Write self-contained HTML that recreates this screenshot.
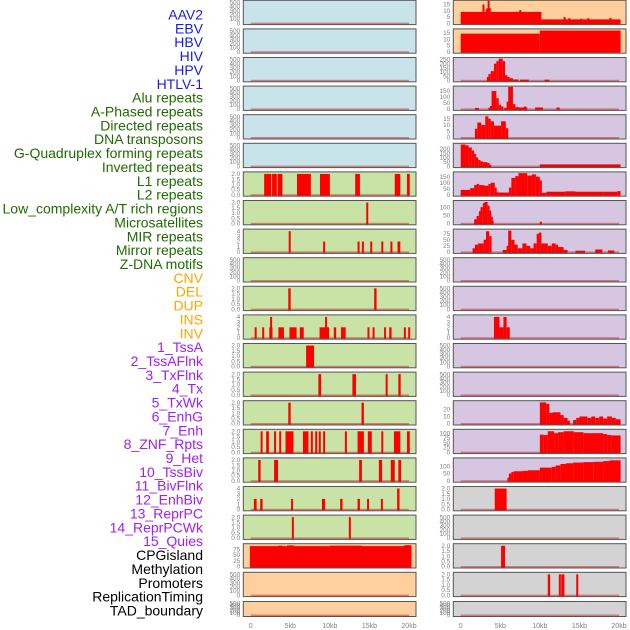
<!DOCTYPE html>
<html><head><meta charset="utf-8"><style>
html,body{margin:0;padding:0;background:#fff;width:630px;height:630px;overflow:hidden}
svg{display:block}
</style></head><body>
<svg id="chart" width="630" height="630" xmlns="http://www.w3.org/2000/svg"></svg>
<script>
const labels=["AAV2","EBV","HBV","HIV","HPV","HTLV-1","Alu repeats","A-Phased repeats","Directed repeats","DNA transposons","G-Quadruplex forming repeats","Inverted repeats","L1 repeats","L2 repeats","Low_complexity A/T rich regions","Microsatellites","MIR repeats","Mirror repeats","Z-DNA motifs","CNV","DEL","DUP","INS","INV","1_TssA","2_TssAFlnk","3_TxFlnk","4_Tx","5_TxWk","6_EnhG","7_Enh","8_ZNF_Rpts","9_Het","10_TssBiv","11_BivFlnk","12_EnhBiv","13_ReprPC","14_ReprPCWk","15_Quies","CPGisland","Methylation","Promoters","ReplicationTiming","TAD_boundary"];
const labelGroups=[6,13,5,15,5];
const xTicks=[0,5,10,15,20];
const xTickLabels=["0","5kb","10kb","15kb","20kb"];
const T500=[0,100,200,300,400,500],T2=[0,0.5,1,1.5,2],T4=[0,1,2,3,4];
const leftTicks=[T500,T500,T500,T500,T500,T500,T2,T2,T4,T500,T2,T4,T2,T2,T2,T2,T2,T4,T2,[0,25,50,75],T500,T500];
const leftMax=[525,525,525,525,525,525,2.1,2.1,4.2,525,2.1,4.2,2.1,2.1,2.1,2.1,2.1,4.2,2.1,94,525,525];
const leftBg=["#c9e3ea","#c9e3ea","#c9e3ea","#c9e3ea","#c9e3ea","#c9e3ea","#c9e2a5","#c9e2a5","#c9e2a5","#c9e2a5","#c9e2a5","#c9e2a5","#c9e2a5","#c9e2a5","#c9e2a5","#c9e2a5","#c9e2a5","#c9e2a5","#c9e2a5","#ffd09e","#ffd09e","#ffd09e"];
const leftSegs=[[],[],[],[],[],[],
[[1.7,2.6,2],[2.7,3.3,2],[3.4,4.0,2],[5.85,7.6,2],[8.75,10.0,2],[13.2,13.8,2],[18.2,18.9,2],[19.75,20.1,2]],
[[14.6,14.8,2]],
[[4.8,5.05,4],[9.15,9.35,2],[13.5,13.7,2],[14.05,14.3,2],[15.1,15.3,2],[16.5,16.7,2],[17.65,17.85,2],[18.55,18.9,2]],
[],
[[4.75,5.05,2],[15.6,15.9,2]],
[[0.5,0.7,2],[1.45,1.65,2],[2.35,2.75,2],[2.45,2.6,4],[3.5,4.2,2],[4.9,5.8,2],[6.2,6.7,2],[8.7,9.9,2],[9.4,9.6,4],[10.5,10.8,2],[11.4,12.0,2],[14.75,14.95,2],[15.4,15.65,2],[16.85,17.05,2],[17.5,17.8,2],[19.35,19.55,2],[19.9,20.05,2]],
[[7.0,8.0,2]],
[[8.55,8.9,2],[12.85,13.3,2],[17.05,17.3,2],[18.65,18.95,2]],
[[4.75,5.05,2],[14.0,14.3,2]],
[[1.25,1.5,2],[1.95,2.3,2],[2.95,3.2,2],[3.6,3.8,2],[4.4,5.4,2],[6.6,7.3,2],[7.6,7.8,2],[8.15,8.35,2],[8.6,8.8,2],[9.15,9.4,2],[11.9,12.1,2],[13.5,14.3,2],[14.8,15.3,2],[16.5,16.7,2],[18.1,18.9,2],[19.75,20.1,2]],
[[0.95,1.25,2],[2.95,3.45,2],[13.7,14.05,2],[16.2,16.6,2],[17.7,18.2,2],[18.65,19.0,2]],
[[0.4,0.75,2],[1.2,1.5,2],[5.1,5.3,2],[9.0,9.4,2],[11.3,11.6,2],[13.5,13.8,2],[14.7,14.95,2],[16.45,16.7,2],[18.5,18.8,4]],
[[5.2,5.45,2],[12.4,12.6,2]],
[[-0.1,20.3,88],[3.5,4.0,90],[4.6,5.5,91],[10.0,14.0,90],[19.4,20.3,92]],
[],[]];
const rightTicks=[[0,5,10,15],[0,5,10,15],[0,50,100,150,200,250],[0,50,100,150],[0,5,10,15],[0,50,100,150,200],[0,50,100,150],[0,50,100],[0,25,50,75],T500,T500,T4,T500,T500,[0,10,20],[0,25,50,75,100],[0,50,100],T2,T500,T2,T2,T500];
const rightMax=[17.5,17.5,262,183,17.5,252,182,135,90,525,525,4.2,525,525,31,115,150,2.1,525,2.1,2.1,525];
const rightBg=["#ffd09e","#ffd09e","#d6c6e2","#d6c6e2","#d6c6e2","#d6c6e2","#d6c6e2","#d6c6e2","#d6c6e2","#d6c6e2","#d6c6e2","#d6c6e2","#d6c6e2","#d6c6e2","#d6c6e2","#d6c6e2","#d6c6e2","#d3d3d3","#d3d3d3","#d3d3d3","#d3d3d3","#d3d3d3"];
const rightSegs=[
[[0,10.2,9],[2.75,2.85,15],[3.15,3.3,11],[3.3,3.8,12],[3.4,3.6,19],[7.4,7.6,10.5],[10.2,20.2,3],[13.0,13.2,5],[13.6,13.7,4],[15.1,15.3,3.5],[16.0,16.1,4],[18.8,18.9,4.3]],
[[0,10,14.5],[10,20.2,17]],
[[3.3,3.5,40],[3.5,3.8,75],[3.8,4.2,110],[4.2,4.5,200],[4.5,4.8,230],[4.8,5.3,260],[5.3,5.6,230],[5.6,5.9,60],[5.9,6.2,40],[6.2,6.6,25],[6.6,7.3,10],[7.5,8.6,8],[10.6,11.2,8]],
[[1.8,2.3,8],[3.5,3.7,10],[3.7,3.9,25],[3.9,4.5,150],[4.5,4.8,90],[4.8,5.1,35],[5.1,5.4,20],[5.5,5.8,10],[5.8,6.0,60],[6.0,6.6,185],[6.6,6.9,40],[6.9,7.3,15],[7.3,8.4,12],[8.0,8.3,20],[9.4,10.4,12],[12.1,12.5,12]],
[[1.8,2.1,7],[2.1,2.6,12],[2.6,3.1,10],[3.1,3.5,17],[3.5,3.8,15],[3.8,4.2,13],[4.2,5.1,9.5],[5.1,5.7,13],[5.7,6.0,7.5]],
[[0,0.6,250],[0.6,1.0,240],[1.0,1.4,215],[1.4,1.7,180],[1.7,1.9,140],[1.9,2.2,100],[2.2,2.5,70],[2.5,2.8,55],[2.8,3.4,45],[3.4,3.6,35],[3.6,3.7,15],[10,20.2,20]],
[[0,1.2,40],[1.2,1.7,55],[1.7,2.0,80],[2.0,2.3,90],[2.3,3.0,80],[3.0,3.5,75],[3.5,3.8,90],[3.8,4.3,100],[4.3,4.5,60],[4.5,4.8,20],[4.8,6.1,18],[6.1,6.4,60],[6.4,6.9,140],[6.9,7.3,155],[7.3,8.4,180],[8.4,9.0,160],[9.0,9.5,170],[9.5,10.0,150],[10,10.2,120],[10.2,10.8,15],[10.8,13.2,25],[13.2,14.5,28],[14.5,18.0,25],[18.0,19.8,25],[19.8,20.2,30]],
[[1.7,2.0,25],[2.0,2.3,45],[2.3,2.5,75],[2.5,2.8,100],[2.8,3.0,125],[3.0,3.4,132],[3.4,3.6,110],[3.6,3.8,80],[3.8,3.9,40],[3.9,4.0,15],[10,10.2,10]],
[[1.5,1.8,15],[1.8,2.2,30],[2.2,2.9,35],[2.9,3.2,50],[3.2,3.6,85],[3.6,3.9,65],[5.3,5.8,8],[5.8,6.0,25],[6.0,6.4,88],[6.4,6.8,50],[6.8,7.2,30],[7.2,7.8,15],[7.8,8.3,35],[8.3,8.8,25],[8.8,9.2,15],[9.2,9.6,35],[9.6,9.9,75],[9.9,10.2,80],[10.2,11.0,35],[11.0,11.5,25],[11.5,12.0,35],[12.0,12.3,30],[12.3,13.0,20],[13.0,13.5,8],[14.5,15.7,5],[17.0,17.9,10],[18.6,19.4,6]],
[],[],
[[4.2,4.9,4],[4.9,5.4,2],[5.4,5.8,4],[5.8,6.2,2]],
[],[],
[[10,10.8,30],[10.8,11.2,28],[11.2,11.6,15],[11.6,12.6,16],[12.6,13.0,12],[13.0,13.5,8],[13.5,13.8,4],[14.2,14.6,5],[14.6,15.0,8],[15.0,16.0,10],[16.0,16.5,8],[16.5,17.0,10],[17.0,17.5,8],[17.5,18.0,10],[18.0,18.5,7],[18.5,19.1,10],[19.1,19.6,8],[19.6,20.2,6]],
[[10,10.5,92],[10.5,11.0,90],[11.0,11.8,110],[11.8,12.3,100],[12.3,13.0,105],[13.0,14.3,110],[14.3,15.5,105],[15.5,18.0,100],[18.0,18.5,95],[18.5,19.0,90],[19.0,20.2,88]],
[[5.9,6.1,20],[6.1,6.4,50],[6.4,6.7,60],[6.7,7.8,65],[7.8,8.5,68],[8.5,10.0,72],[10,11.5,90],[11.5,12.0,95],[12.0,12.6,105],[12.6,13.3,115],[13.3,14.2,120],[14.2,15.5,125],[15.5,16.8,128],[16.8,18.0,130],[18.0,18.8,135],[18.8,20.2,140]],
[[4.3,5.8,2]],
[],
[[5.1,5.6,2]],
[[11.0,11.3,2],[12.4,12.6,2],[12.7,13.1,2],[14.6,14.8,2]],
[]];

const NS="http://www.w3.org/2000/svg";
const svg=document.getElementById("chart");
function mk(tag,attrs,parent){const e=document.createElementNS(NS,tag);for(const k in attrs)e.setAttribute(k,attrs[k]);(parent||svg).appendChild(e);return e;}

const groupColors=["#1a1aee","#1f6b00","#ffa500","#a020f0","#000000"];
let li=0;
labelGroups.forEach((n,g)=>{for(let k=0;k<n;k++,li++){
  const t=mk("text",{x:203,y:15+li*13.86+4.5,"text-anchor":"end","font-family":"Liberation Sans, sans-serif","font-size":"14",fill:groupColors[g]});
  t.textContent=labels[li];
  
  
}});

const cols=[{x0:243.3,x1:416,d0:250.7,d1:409,segs:leftSegs,ticks:leftTicks,max:leftMax,bg:leftBg,name:"left"},
            {x0:453.3,x1:626,d0:460.7,d1:619,segs:rightSegs,ticks:rightTicks,max:rightMax,bg:rightBg,name:"right"}];
function rowTop(i){return i<21? 0.3+i*28.6 : 601.5;}
function rowH(i){return i<21?24.3:15;}

cols.forEach(c=>{
  const xs=v=>c.d0+(v/20)*(c.d1-c.d0);
  for(let i=0;i<22;i++){
    const top=rowTop(i),h=rowH(i),bot=top+h-1.5,inner=h-2.5;
    const ys=v=>bot-(v/c.max[i])*inner;
    const g=mk("g",{});
    
    
    const bg=mk("rect",{x:c.x0,y:top,width:c.x1-c.x0,height:h,fill:c.bg[i],stroke:"#555","stroke-width":"1"},g);
    
    
    c.segs[i].forEach(s=>{
      let x=xs(Math.max(s[0],-0.1)),w=Math.max(xs(s[1])-x,2);
      const y=Math.max(ys(s[2]),top+0.5);
      const r=mk("rect",{x:x,y:y,width:w,height:bot-y+1,fill:"#ff0000"},g);
      
      
    });
    const bl=mk("rect",{x:xs(0),y:bot-0.5,width:xs(20)-xs(0),height:1.6,fill:"rgba(190,20,20,0.45)"},g);
    
    
    c.ticks[i].forEach(tv=>{
      const t=mk("text",{x:c.x0-3,y:ys(tv)+2.2,"text-anchor":"end","font-family":"Liberation Sans, sans-serif","font-size":"6.5",fill:"#808080"},g);
      t.textContent=(c.ticks[i]===T2?tv.toFixed(1):String(tv));
      
      
    });
  }
  xTicks.forEach((v,k)=>{
    const t=mk("text",{x:xs(v),y:628,"text-anchor":"middle","font-family":"Liberation Sans, sans-serif","font-size":"7",fill:"#808080"});
    t.textContent=xTickLabels[k];
    
    
  });
});
</script>
</body></html>
